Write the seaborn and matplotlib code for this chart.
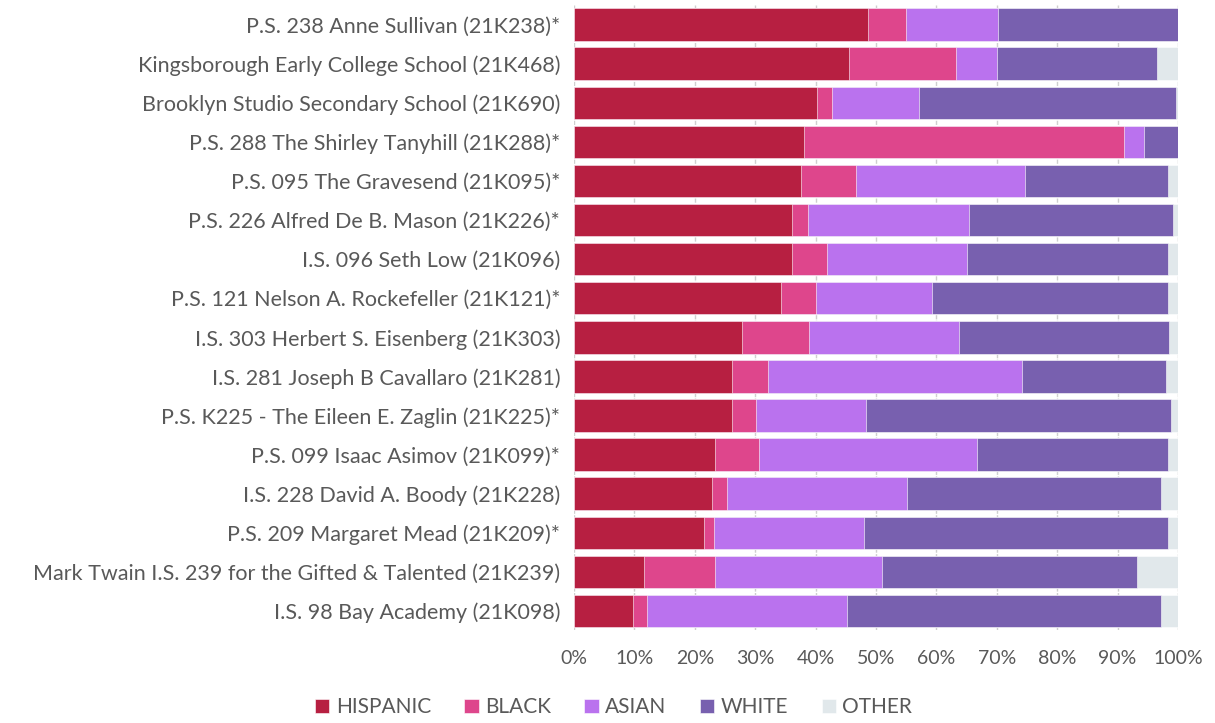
import pandas as pd
import numpy as np
import matplotlib.pyplot as plt
import seaborn as sns

# School names, top to bottom
schools = [
    'P.S. 238 Anne Sullivan (21K238)*',
    'Kingsborough Early College School (21K468)',
    'Brooklyn Studio Secondary School (21K690)',
    'P.S. 288 The Shirley Tanyhill (21K288)*',
    'P.S. 095 The Gravesend (21K095)*',
    'P.S. 226 Alfred De B. Mason (21K226)*',
    'I.S. 096 Seth Low (21K096)',
    'P.S. 121 Nelson A. Rockefeller (21K121)*',
    'I.S. 303 Herbert S. Eisenberg (21K303)',
    'I.S. 281 Joseph B Cavallaro (21K281)',
    'P.S. K225 - The Eileen E. Zaglin (21K225)*',
    'P.S. 099 Isaac Asimov (21K099)*',
    'I.S. 228 David A. Boody (21K228)',
    'P.S. 209 Margaret Mead (21K209)*',
    'Mark Twain I.S. 239 for the Gifted & Talented (21K239)',
    'I.S. 98 Bay Academy (21K098)',
]

# Share of enrollment (%) by group
hispanic = [48.6, 45.6, 40.2, 38.0, 37.6, 36.1, 36.1, 34.2, 27.8, 26.1, 26.1, 23.4, 22.8, 21.5, 11.5, 9.8]
black = [6.4, 17.7, 2.5, 53.0, 9.1, 2.6, 5.8, 5.8, 11.1, 6.0, 4.1, 7.2, 2.5, 1.7, 11.9, 2.2]
asian = [15.2, 6.8, 14.4, 3.4, 28.0, 26.7, 23.1, 19.2, 24.8, 42.0, 18.2, 36.2, 29.9, 24.8, 27.6, 33.2]
white = [29.8, 26.5, 42.6, 5.6, 23.7, 33.7, 33.4, 39.2, 34.9, 23.9, 50.5, 31.6, 42.0, 50.4, 42.2, 52.0]
other = [0.0, 3.4, 0.3, 0.0, 1.6, 0.9, 1.6, 1.6, 1.4, 2.0, 1.1, 1.6, 2.8, 1.6, 6.8, 2.8]

groups = ['HISPANIC', 'BLACK', 'ASIAN', 'WHITE', 'OTHER']
colors = ['#B71F41', '#DE468C', '#BA72EE', '#7860AF', '#E1E8EB']

df = pd.DataFrame({'School': schools, 'HISPANIC': hispanic, 'BLACK': black,
                   'ASIAN': asian, 'WHITE': white, 'OTHER': other})

# cumulative totals so the bars can be overlaid from longest to shortest
cum = df[groups].cumsum(axis=1)

sns.set_style('white')
plt.rcParams['font.family'] = ['Lato', 'DejaVu Sans']

fig, ax = plt.subplots(figsize=(12.15, 7.23), dpi=100)
fig.subplots_adjust(left=0.4725, right=0.9695, top=0.993, bottom=0.128)

for g, c in reversed(list(zip(groups, colors))):
    sns.barplot(x=cum[g], y=df['School'], color=c, saturation=1, orient='h',
                width=0.83, ax=ax, label=g, edgecolor='white', linewidth=0.4)

ax.set_xlim(0, 100)
ax.set_xticks(np.arange(0, 101, 10))
ax.set_xticklabels([f'{v}%' for v in range(0, 101, 10)])
ax.set_xlabel('')
ax.set_ylabel('')
ax.grid(axis='x', color='#cfcfcf', linewidth=1, linestyle=(0, (3, 1)))
ax.set_axisbelow(True)
for s in ax.spines.values():
    s.set_visible(False)
ax.tick_params(axis='both', length=0, labelcolor='#595959')
ax.tick_params(axis='x', pad=14, labelsize=14)
ax.tick_params(axis='y', pad=10, labelsize=15.5)

handles, labels = ax.get_legend_handles_labels()
order = [labels.index(g) for g in groups]
if ax.legend_:
    ax.legend_.remove()
fig.legend([handles[i] for i in order], groups, loc='lower center',
           bbox_to_anchor=(0.505, -0.018), ncol=5, frameon=False,
           fontsize=15, labelcolor='#595959', handlelength=0.7,
           handleheight=0.7, handletextpad=0.3, columnspacing=1.6)

plt.savefig('out.png', dpi=100)
